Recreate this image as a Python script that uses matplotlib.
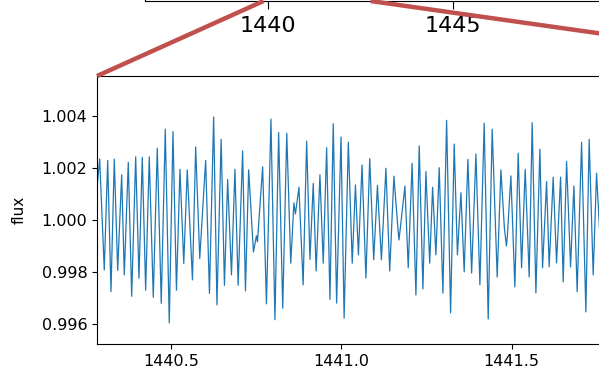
"""Zoomed light curve segment with connector lines to the full-baseline panel."""

import matplotlib.pyplot as plt
from matplotlib.patches import ConnectionPatch

# ------------------------------
# Light curve segment (BTJD, normalised flux)
# ------------------------------

time = [
    1440.2837, 1440.2907, 1440.3042, 1440.3142, 1440.3239, 1440.3336, 1440.3436,
    1440.3553, 1440.3629, 1440.3747, 1440.3847, 1440.3964, 1440.4061, 1440.4158,
    1440.4257, 1440.4363, 1440.4481, 1440.4598, 1440.4715, 1440.4833, 1440.4950,
    1440.5059, 1440.5161, 1440.5264, 1440.5376, 1440.5478, 1440.5631, 1440.5725,
    1440.5845, 1440.6018, 1440.6130, 1440.6253, 1440.6350, 1440.6473, 1440.6570,
    1440.6664, 1440.6776, 1440.6878, 1440.6972, 1440.7104, 1440.7187, 1440.7281,
    1440.7421, 1440.7509, 1440.7539, 1440.7691, 1440.7803, 1440.7935, 1440.8052,
    1440.8161, 1440.8281, 1440.8399, 1440.8516, 1440.8610, 1440.8654, 1440.8757,
    1440.8880, 1440.8983, 1440.9080, 1440.9177, 1440.9262, 1440.9373, 1440.9470,
    1440.9570, 1440.9667, 1440.9764, 1440.9863, 1440.9992, 1441.0083, 1441.0207,
    1441.0321, 1441.0415, 1441.0503, 1441.0609, 1441.0723, 1441.0835, 1441.0952,
    1441.1061, 1441.1178, 1441.1310, 1441.1422, 1441.1545, 1441.1648, 1441.1692,
    1441.1721, 1441.1868, 1441.1965, 1441.2079, 1441.2191, 1441.2288, 1441.2396,
    1441.2484, 1441.2596, 1441.2681, 1441.2778, 1441.2875, 1441.2983, 1441.3092,
    1441.3209, 1441.3315, 1441.3409, 1441.3512, 1441.3608, 1441.3717, 1441.3826,
    1441.3952, 1441.4069, 1441.4195, 1441.4313, 1441.4430, 1441.4577, 1441.4686,
    1441.4788, 1441.4847, 1441.4876, 1441.4979, 1441.5096, 1441.5193, 1441.5293,
    1441.5399, 1441.5516, 1441.5604, 1441.5713, 1441.5830, 1441.5909, 1441.6027,
    1441.6103, 1441.6221, 1441.6320, 1441.6438, 1441.6514, 1441.6614, 1441.6731,
    1441.6828, 1441.6925, 1441.7054, 1441.7180, 1441.7277, 1441.7395, 1441.7494,
    1441.7591, 1441.7679,
]

flux = [
    1.00134, 1.00234, 0.99808, 1.00228, 0.99725, 1.00233, 0.99806,
    1.00173, 0.99789, 1.00221, 0.99707, 1.00242, 0.99776, 1.00240,
    0.99730, 1.00242, 0.99703, 1.00275, 0.99680, 1.00348, 0.99605,
    1.00339, 0.99730, 1.00194, 0.99833, 1.00192, 0.99770, 1.00280,
    0.99852, 1.00228, 0.99718, 1.00395, 0.99674, 1.00309, 0.99749,
    1.00155, 0.99789, 1.00194, 0.99749, 1.00265, 0.99728, 1.00192,
    0.99877, 0.99939, 0.99916, 1.00204, 0.99678, 1.00387, 0.99617,
    1.00335, 0.99661, 1.00332, 0.99834, 1.00065, 1.00023, 1.00125,
    0.99751, 1.00302, 0.99849, 1.00140, 0.99804, 1.00173, 0.99834,
    1.00277, 0.99695, 1.00369, 0.99681, 1.00318, 0.99623, 1.00298,
    0.99834, 1.00134, 0.99866, 1.00211, 0.99777, 1.00235, 0.99847,
    1.00132, 0.99847, 1.00198, 0.99804, 1.00168, 0.99992, 0.99923,
    0.99954, 1.00130, 0.99816, 1.00217, 0.99712, 1.00284, 0.99735,
    1.00185, 0.99834, 1.00125, 0.99866, 1.00200, 0.99719, 1.00382,
    0.99643, 1.00291, 0.99866, 1.00104, 0.99801, 1.00232, 0.99796,
    1.00253, 0.99751, 1.00371, 0.99620, 1.00348, 0.99781, 1.00192,
    0.99969, 0.99900, 0.99939, 1.00169, 0.99743, 1.00256, 0.99816,
    1.00194, 0.99781, 1.00373, 0.99720, 1.00271, 0.99816, 1.00147,
    0.99820, 1.00164, 0.99835, 1.00164, 0.99762, 1.00224, 0.99820,
    1.00130, 0.99724, 1.00298, 0.99647, 1.00309, 0.99789, 1.00179,
    0.99942, 1.00230,
]

# Limits of the zoomed panel and of the window marked on the full panel
zoom_xlim = (1440.2828, 1442.643)
zoom_ylim = (0.99524, 1.00552)
window = (1439.878, 1442.778)
full_xlim = (1436.667, 1456.72)

xticks_zoom = [1440.5, 1441.0, 1441.5]
yticks_zoom = [0.996, 0.998, 1.000, 1.002, 1.004]
xticks_full = [1440, 1445]

# ------------------------------
# Figure
# ------------------------------

fig = plt.figure(figsize=(5.99, 3.70), dpi=100)

# full light curve panel: only its lower edge falls inside the figure
ax_full = fig.add_axes([0.2421, 0.9973, 1.2354, 0.6])
ax_full.set_xlim(*full_xlim)
ax_full.set_xticks(xticks_full)
ax_full.set_yticks([])
ax_full.tick_params(axis="x", labelsize=16, length=5.5, pad=5)

# zoomed panel
ax = fig.add_axes([0.1619, 0.0703, 1.3422, 0.7243])
ax.plot(time, flux, color="tab:blue", lw=0.9)
ax.set_xlim(*zoom_xlim)
ax.set_ylim(*zoom_ylim)
ax.set_xticks(xticks_zoom)
ax.set_yticks(yticks_zoom)
ax.ticklabel_format(useOffset=False)
ax.xaxis.set_major_formatter(plt.FormatStrFormatter("%.1f"))
ax.yaxis.set_major_formatter(plt.FormatStrFormatter("%.3f"))
ax.tick_params(labelsize=11.5)
ax.set_ylabel("flux", fontsize=11)
ax.yaxis.set_label_coords(-0.088, 0.5)

# connectors from the marked window to the zoomed panel corners
for xw, xz in [(window[0], zoom_xlim[0]), (window[1], zoom_xlim[1])]:
    con = ConnectionPatch(
        xyA=(xz, zoom_ylim[1]), coordsA=ax.transData,
        xyB=(xw, 0), coordsB=ax_full.get_xaxis_transform(),
        color="#c0504d", lw=3.2, capstyle="butt",
    )
    fig.add_artist(con)

fig.savefig("out.png", dpi=100)
